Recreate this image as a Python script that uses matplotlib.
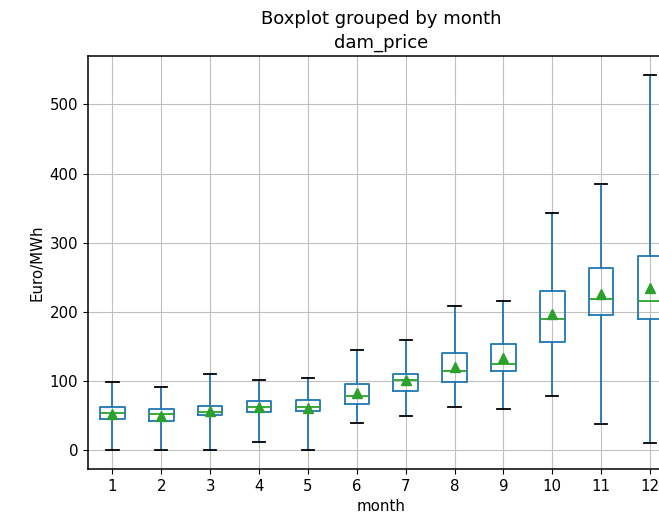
import matplotlib
matplotlib.use("Agg")
import matplotlib.pyplot as plt

# monthly box stats of dam_price (Euro/MWh)
months = [1, 2, 3, 4, 5, 6, 7, 8, 9, 10, 11, 12]
whis_low = [1, 0, 0, 12, 0, 40, 50, 63, 59, 79, 38, 10]
q1 = [45, 42, 51, 55, 57, 67, 85, 99, 114, 157, 195, 189]
medians = [54, 52, 55, 62, 63, 78, 101, 114, 125, 189, 219, 215]
q3 = [62, 60, 64, 71, 73, 95, 110, 140, 154, 230, 263, 281]
whis_high = [99, 91, 110, 102, 104, 145, 160, 208, 216, 343, 385, 543]
means = [52, 50, 57, 63, 61, 83, 101, 121, 134, 197, 226, 234]

stats = []
for i in range(len(months)):
    stats.append({
        "label": str(months[i]),
        "whislo": whis_low[i], "q1": q1[i], "med": medians[i],
        "q3": q3[i], "whishi": whis_high[i], "mean": means[i],
        "fliers": [],
    })

plt.rcParams["font.size"] = 10.8
plt.rcParams["axes.linewidth"] = 1.1

fig = plt.figure(figsize=(6.59, 5.17), dpi=100)
ax = fig.add_axes([0.1335, 0.0928, 0.89, 0.799])

lw = 1.3
ax.bxp(stats, positions=months, showmeans=True,
       boxprops=dict(color="#1f77b4", linewidth=lw),
       whiskerprops=dict(color="#1f77b4", linewidth=lw),
       medianprops=dict(color="#2ca02c", linewidth=lw),
       capprops=dict(color="black", linewidth=lw),
       meanprops=dict(marker="^", markerfacecolor="#2ca02c",
                      markeredgecolor="#2ca02c", markersize=7))

ax.set_xlim(0.5, 12.5)
ax.set_ylim(-27.2, 570)
ax.grid(True, color="#c0c0c0")
ax.set_xlabel("month")
ax.set_ylabel("Euro/MWh")
ax.set_title("dam_price", fontsize=13)
fig.suptitle("Boxplot grouped by month", x=0.578, y=0.98, fontsize=13)

fig.savefig("out.png", dpi=100)
